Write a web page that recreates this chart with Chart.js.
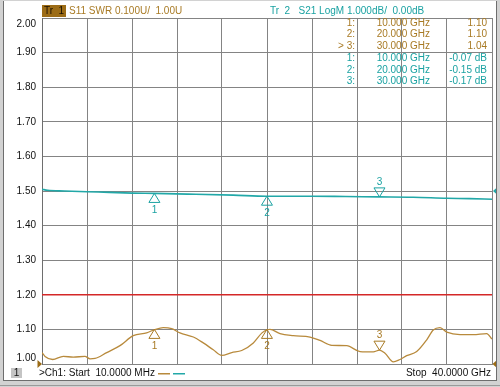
<!DOCTYPE html>
<html>
<head>
<meta charset="utf-8">
<script src="https://cdn.jsdelivr.net/npm/chart.js@4/dist/chart.umd.min.js"></script>
<style>
  html, body { margin: 0; padding: 0; background: #fff; }
  canvas { display: block; }
</style>
</head>
<body>
<canvas id="vna" width="500" height="387"></canvas>
<script>
// frequency span (GHz)
const startGHz = 0.01;
const stopGHz = 40;

// Tr 1: S11 SWR trace
const swrFreqs = [0.01, 0.28, 0.96, 1.9, 2.79, 3.83, 4.28, 4.72, 5.76, 6.94, 8.12, 9.31, 10.0, 10.79, 11.54, 12.27, 13.46, 14.34, 15.23, 15.98, 16.87, 17.76, 18.79, 19.56, 20.0, 20.27, 21.16, 22.34, 23.83, 24.72, 25.76, 27.09, 28.27, 29.45, 30.0, 30.49, 31.23, 31.82, 32.42, 33.31, 34.2, 34.78, 35.38, 35.98, 37.16, 38.34, 39.53, 40.0];
const swrValues = [1.033, 1.022, 1.013, 1.022, 1.020, 1.022, 1.015, 1.016, 1.033, 1.053, 1.082, 1.090, 1.099, 1.105, 1.102, 1.090, 1.078, 1.061, 1.041, 1.025, 1.033, 1.039, 1.061, 1.090, 1.099, 1.100, 1.088, 1.082, 1.078, 1.068, 1.054, 1.053, 1.036, 1.035, 1.040, 1.031, 1.006, 1.013, 1.024, 1.036, 1.070, 1.098, 1.105, 1.092, 1.085, 1.085, 1.088, 1.072];

// Tr 2: S21 LogM trace (dB)
const s21Freqs = [0.01, 0.5, 2, 5, 8, 10, 13, 17, 20, 24, 27, 30, 33, 36, 38, 40];
const s21Values = [0.05, 0.02, 0.0, -0.03, -0.06, -0.07, -0.09, -0.12, -0.15, -0.15, -0.16, -0.17, -0.18, -0.21, -0.22, -0.24];

// limit line on Tr 1
const limitSWR = 1.20;

// markers
const markerFreqs = [10, 20, 30];
const swrMarkerVals = [1.10, 1.10, 1.04];
const s21MarkerVals = [-0.07, -0.15, -0.17];

const yTickLabels = ['2.00', '1.90', '1.80', '1.70', '1.60', '1.50', '1.40', '1.30', '1.20', '1.10', '1.00'];

const BROWN = '#b88a3c';
const BROWN_TXT = '#a87a24';
const TEAL = '#22a8a8';
const TEAL_TXT = '#1aa2a2';
const GRID = '#848484';
const FONT = '10px "Liberation Sans", Arial, sans-serif';

function xy(xs, ys) {
    return xs.map((x, i) => ({ x: x, y: ys[i] }));
}

function tri(ctx, x, y, up, color) {
    // apex on the trace, open triangle
    ctx.beginPath();
    if (up) {
        ctx.moveTo(x, y);
        ctx.lineTo(x - 5.5, y + 9);
        ctx.lineTo(x + 5.5, y + 9);
    } else {
        ctx.moveTo(x, y);
        ctx.lineTo(x - 5.5, y - 9);
        ctx.lineTo(x + 5.5, y - 9);
    }
    ctx.closePath();
    ctx.strokeStyle = color;
    ctx.lineWidth = 1;
    ctx.stroke();
}

const screenPlugin = {
    id: 'screen',
    beforeDraw(chart) {
        const ctx = chart.ctx;
        ctx.save();
        ctx.fillStyle = '#fff';
        ctx.fillRect(0, 0, 500, 387);
        ctx.restore();
    },
    afterDraw(chart) {
        const ctx = chart.ctx;
        const xs = chart.scales.x;
        const ys = chart.scales.y;
        const y2 = chart.scales.y2;
        const area = chart.chartArea;
        ctx.save();
        ctx.font = FONT;

        // y tick labels, end labels pushed inside the grid
        ctx.fillStyle = '#111';
        ctx.textAlign = 'right';
        ctx.textBaseline = 'middle';
        yTickLabels.forEach(t => {
            let py = ys.getPixelForValue(parseFloat(t));
            py = Math.min(Math.max(py, area.top + 6), area.bottom - 6);
            ctx.fillText(t, 36, py);
        });

        // trace headers
        ctx.fillStyle = '#9c6c16';
        ctx.fillRect(42, 5, 24, 12);
        ctx.fillStyle = '#1a1000';
        ctx.textAlign = 'left';
        ctx.fillText('Tr  1', 44, 11.5);
        ctx.fillStyle = BROWN_TXT;
        ctx.fillText('S11 SWR 0.100U/  1.00U', 69, 11.5);
        ctx.fillStyle = TEAL_TXT;
        ctx.fillText('Tr  2   S21 LogM 1.000dB/  0.00dB', 270, 11.5);

        // marker readout table
        const rows = [];
        markerFreqs.forEach((f, i) => rows.push([(i === 2 ? '> ' : '') + (i + 1) + ':', f.toFixed(3) + ' GHz', swrMarkerVals[i].toFixed(2), BROWN_TXT]));
        markerFreqs.forEach((f, i) => rows.push([(i + 1) + ':', f.toFixed(3) + ' GHz', s21MarkerVals[i].toFixed(2) + ' dB', TEAL_TXT]));
        ctx.textAlign = 'right';
        rows.forEach((r, i) => {
            const ry = 23 + i * 11.7;
            ctx.fillStyle = r[3];
            ctx.fillText(r[0], 355, ry);
            ctx.fillText(r[1], 430, ry);
            ctx.fillText(r[2], 487, ry);
        });

        // markers on traces
        ctx.textAlign = 'center';
        markerFreqs.forEach((f, i) => {
            const mx = xs.getPixelForValue(f);
            const up = i < 2;
            const by = ys.getPixelForValue(swrMarkerVals[i]);
            tri(ctx, mx, by, up, BROWN_TXT);
            ctx.fillStyle = BROWN_TXT;
            ctx.fillText(String(i + 1), mx, up ? by + 17 : by - 15);
            const ty = y2.getPixelForValue(s21MarkerVals[i]);
            tri(ctx, mx, ty, up, TEAL_TXT);
            ctx.fillStyle = TEAL_TXT;
            ctx.fillText(String(i + 1), mx, up ? ty + 17 : ty - 15);
        });

        // reference position arrows
        const refSwr = ys.getPixelForValue(1.0);
        const refDb = y2.getPixelForValue(0);
        ctx.fillStyle = '#9c6c16';
        ctx.beginPath();
        ctx.moveTo(37.5, refSwr - 4); ctx.lineTo(42, refSwr); ctx.lineTo(37.5, refSwr + 4); ctx.closePath(); ctx.fill();
        ctx.beginPath();
        ctx.moveTo(497, refSwr - 4); ctx.lineTo(492.5, refSwr); ctx.lineTo(497, refSwr + 4); ctx.closePath(); ctx.fill();
        ctx.fillStyle = TEAL;
        ctx.beginPath();
        ctx.moveTo(498, refDb - 4.5); ctx.lineTo(493, refDb); ctx.lineTo(498, refDb + 4.5); ctx.closePath(); ctx.fill();

        // status line
        ctx.fillStyle = '#c4c4c4';
        ctx.fillRect(11, 368, 11, 10);
        ctx.fillStyle = '#111';
        ctx.textAlign = 'center';
        ctx.fillText('1', 16.5, 373);
        ctx.textAlign = 'left';
        ctx.fillText('>Ch1: Start  10.0000 MHz', 39, 373.5);
        ctx.fillStyle = BROWN;
        ctx.fillRect(158, 373, 12, 1.5);
        ctx.fillStyle = TEAL;
        ctx.fillRect(173, 373, 12, 1.5);
        ctx.fillStyle = '#111';
        ctx.textAlign = 'right';
        ctx.fillText('Stop  40.0000 GHz', 491, 373.5);

        // window frame
        ctx.fillStyle = '#d2d2d2';
        ctx.fillRect(0, 381, 500, 6);
        ctx.fillRect(0, 0, 3, 387);
        ctx.fillRect(497, 0, 3, 387);
        ctx.fillRect(0, 0, 500, 1);
        ctx.fillStyle = '#6e6e6e';
        ctx.fillRect(3, 1, 1, 380);
        ctx.fillRect(3, 380, 494, 1);
        ctx.fillRect(496, 1, 1, 380);
        ctx.fillStyle = '#9a9a9a';
        ctx.fillRect(0, 385, 500, 1);
        ctx.restore();
    }
};

new Chart(document.getElementById('vna'), {
    type: 'line',
    data: {
        datasets: [
            {
                label: 'Limit',
                data: [{ x: startGHz, y: limitSWR }, { x: stopGHz, y: limitSWR }],
                yAxisID: 'y',
                borderColor: '#d42828',
                borderWidth: 1.5,
                pointRadius: 0
            },
            {
                label: 'S21 LogM',
                data: xy(s21Freqs, s21Values),
                yAxisID: 'y2',
                borderColor: TEAL,
                borderWidth: 1.6,
                pointRadius: 0,
                tension: 0.3,
                cubicInterpolationMode: 'monotone'
            },
            {
                label: 'S11 SWR',
                data: xy(swrFreqs, swrValues),
                yAxisID: 'y',
                borderColor: BROWN,
                borderWidth: 1.3,
                pointRadius: 0,
                cubicInterpolationMode: 'monotone'
            }
        ]
    },
    options: {
        responsive: false,
        animation: false,
        devicePixelRatio: 1,
        layout: { padding: { left: 42, top: 18, right: 8, bottom: 23 } },
        plugins: { legend: { display: false }, tooltip: { enabled: false } },
        scales: {
            x: {
                type: 'linear',
                min: startGHz,
                max: stopGHz,
                afterBuildTicks: s => {
                    s.ticks = Array.from({ length: 11 }, (_, i) => ({ value: startGHz + i * (stopGHz - startGHz) / 10 }));
                },
                afterFit: s => { s.height = 0; },
                ticks: { display: false },
                grid: { color: GRID, lineWidth: 1, drawTicks: false },
                border: { color: GRID }
            },
            y: {
                min: 1,
                max: 2,
                ticks: { display: false, stepSize: 0.1 },
                afterFit: s => { s.width = 0; },
                grid: { color: GRID, lineWidth: 1, drawTicks: false },
                border: { color: '#6e6e6e' }
            },
            y2: {
                display: false,
                min: -5,
                max: 5
            }
        }
    },
    plugins: [screenPlugin]
});
</script>
</body>
</html>
